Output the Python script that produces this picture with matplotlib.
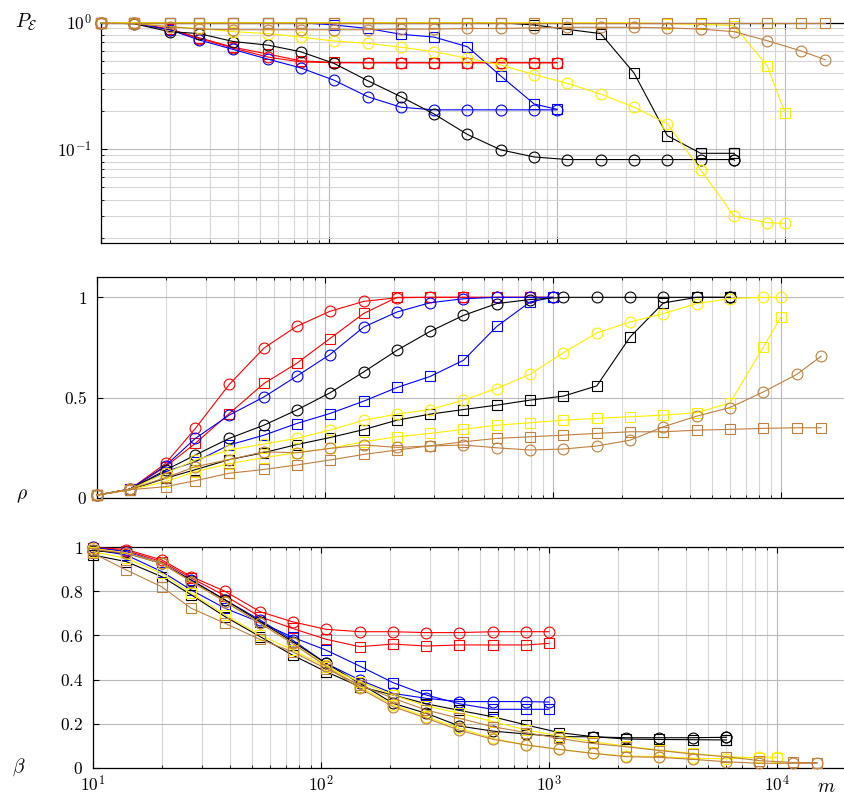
# %% Library
import matplotlib
matplotlib.use("Agg")
import matplotlib.pyplot as plt
import matplotlib.ticker as ticker
import numpy as np

plt.rcParams["mathtext.fontset"] = "cm"
plt.rcParams["font.family"] = "serif"
plt.rcParams["font.serif"] = ["DejaVu Serif"]

# %% Data
# sample sizes m (regular grid), each run stops at its own maximum m
m_grid = [10, 14, 20, 27, 38, 54, 75, 105, 148, 207, 289, 405, 567, 794,
          1111, 1556, 2178, 3049, 4269, 5976, 8367, 11714]
m_red = m_grid[:14] + [1000]
m_blue = m_grid[:14] + [1000]
m_black = m_grid[:20] + [6000]
m_yellow = m_grid[:21] + [10000]
m_brown = m_grid[:22] + [15000]

# P_E (top panel)
pe_red_c = [1, 0.99, 0.88, 0.75, 0.63, 0.535, 0.49, 0.483, 0.483, 0.483, 0.483, 0.483, 0.483, 0.483, 0.483]
pe_red_s = [1, 1, 0.89, 0.76, 0.64, 0.565, 0.50, 0.485, 0.483, 0.483, 0.483, 0.483, 0.483, 0.483, 0.483]
pe_blue_c = [1, 0.99, 0.88, 0.73, 0.615, 0.515, 0.44, 0.352, 0.26, 0.215, 0.205, 0.205, 0.205, 0.205, 0.205]
pe_blue_s = [1, 1, 1, 1, 1, 1, 1, 0.96, 0.90, 0.81, 0.77, 0.646, 0.379, 0.228, 0.207]
pe_black_c = [1, 0.98, 0.85, 0.82, 0.71, 0.665, 0.59, 0.478, 0.348, 0.26, 0.19, 0.131, 0.099, 0.087,
              0.083, 0.083, 0.083, 0.083, 0.083, 0.083, 0.082]
pe_black_s = [1, 1, 1, 1, 1, 1, 1, 1, 1, 1, 1, 1, 1, 0.96, 0.886, 0.82, 0.40, 0.128, 0.093, 0.093, 0.093]
pe_yellow_c = [1, 0.99, 0.93, 0.90, 0.85, 0.82, 0.77, 0.717, 0.687, 0.64, 0.59, 0.523, 0.463, 0.389,
               0.332, 0.273, 0.215, 0.159, 0.0687, 0.0297, 0.0263, 0.026]
pe_yellow_s = [1, 1, 1, 1, 1, 1, 1, 1, 1, 1, 1, 1, 1, 1, 1, 1, 1, 0.98, 0.97, 0.95, 0.455, 0.195]
pe_brown_c = [1, 0.98, 0.93, 0.89, 0.88, 0.88, 0.88, 0.88, 0.88, 0.89, 0.89, 0.90, 0.90, 0.91,
              0.92, 0.92, 0.92, 0.91, 0.89, 0.85, 0.72, 0.60, 0.51]
pe_brown_s = [1] * 23

# rho (middle panel)
rho_red_c = [0.013, 0.043, 0.171, 0.346, 0.565, 0.747, 0.855, 0.93, 0.98, 0.998, 1, 1, 1, 1, 1]
rho_red_s = [0.013, 0.043, 0.155, 0.271, 0.42, 0.57, 0.67, 0.794, 0.92, 1, 1, 1, 1, 1, 1]
rho_blue_c = [0.013, 0.043, 0.16, 0.296, 0.412, 0.503, 0.606, 0.714, 0.852, 0.927, 0.973, 0.993, 1, 1, 1]
rho_blue_s = [0.013, 0.043, 0.13, 0.18, 0.263, 0.312, 0.37, 0.42, 0.482, 0.55, 0.605, 0.686, 0.855, 0.977, 1.0]
rho_black_c = [0.013, 0.043, 0.138, 0.213, 0.296, 0.362, 0.437, 0.523, 0.628, 0.736, 0.83, 0.91,
               0.969, 0.989, 1, 1, 1, 1, 1, 1, 1]
rho_black_s = [0.013, 0.04, 0.097, 0.14, 0.19, 0.225, 0.265, 0.30, 0.34, 0.387, 0.417, 0.44,
               0.462, 0.487, 0.507, 0.558, 0.802, 0.972, 1, 1, 1]
rho_yellow_c = [0.013, 0.043, 0.122, 0.188, 0.238, 0.268, 0.296, 0.337, 0.387, 0.417, 0.44, 0.487,
                0.545, 0.616, 0.724, 0.822, 0.877, 0.919, 0.969, 0.994, 1, 1]
rho_yellow_s = [0.013, 0.04, 0.08, 0.13, 0.17, 0.2, 0.225, 0.246, 0.279, 0.304, 0.321, 0.341,
                0.362, 0.374, 0.387, 0.396, 0.404, 0.412, 0.424, 0.473, 0.752, 0.902]
rho_brown_c = [0.013, 0.043, 0.10, 0.155, 0.19, 0.229, 0.224, 0.246, 0.263, 0.251, 0.258, 0.263,
               0.249, 0.238, 0.243, 0.258, 0.287, 0.354, 0.407, 0.45, 0.528, 0.615, 0.706]
rho_brown_s = [0.013, 0.04, 0.055, 0.085, 0.122, 0.141, 0.163, 0.188, 0.216, 0.238, 0.259, 0.279,
               0.296, 0.304, 0.312, 0.321, 0.329, 0.329, 0.337, 0.341, 0.346, 0.349, 0.349]

# beta (bottom panel)
beta_red_c = [1.0, 0.99, 0.943, 0.867, 0.80, 0.708, 0.662, 0.628, 0.617, 0.617, 0.613, 0.613, 0.617, 0.617, 0.617]
beta_red_s = [0.995, 0.985, 0.935, 0.86, 0.78, 0.685, 0.632, 0.583, 0.549, 0.561, 0.552, 0.557, 0.557, 0.557, 0.564]
beta_blue_c = [1, 0.98, 0.927, 0.852, 0.761, 0.67, 0.579, 0.474, 0.398, 0.337, 0.315, 0.30, 0.30, 0.30, 0.298]
beta_blue_s = [0.99, 0.965, 0.89, 0.806, 0.723, 0.66, 0.592, 0.534, 0.461, 0.386, 0.33, 0.29, 0.265, 0.265, 0.265]
beta_black_c = [0.985, 0.973, 0.927, 0.849, 0.761, 0.663, 0.572, 0.474, 0.383, 0.292, 0.247, 0.189,
                0.166, 0.153, 0.141, 0.14, 0.136, 0.136, 0.136, 0.138, 0.138]
beta_black_s = [0.965, 0.935, 0.867, 0.784, 0.685, 0.595, 0.511, 0.436, 0.368, 0.33, 0.29, 0.26,
                0.231, 0.194, 0.159, 0.141, 0.13, 0.128, 0.127, 0.126, 0.126]
beta_yellow_c = [0.995, 0.975, 0.927, 0.844, 0.753, 0.655, 0.564, 0.466, 0.368, 0.284, 0.231, 0.179,
                 0.133, 0.103, 0.083, 0.065, 0.053, 0.05, 0.043, 0.04, 0.048, 0.048]
beta_yellow_s = [0.98, 0.95, 0.882, 0.791, 0.693, 0.602, 0.534, 0.458, 0.39, 0.33, 0.28, 0.247,
                 0.209, 0.171, 0.144, 0.118, 0.098, 0.08, 0.065, 0.05, 0.045, 0.045]
beta_brown_c = [0.99, 0.973, 0.927, 0.844, 0.753, 0.655, 0.564, 0.461, 0.36, 0.277, 0.225, 0.17,
                0.129, 0.103, 0.083, 0.065, 0.05, 0.047, 0.038, 0.027, 0.02, 0.02, 0.02]
beta_brown_s = [0.973, 0.897, 0.821, 0.723, 0.655, 0.582, 0.526, 0.45, 0.375, 0.315, 0.262, 0.224,
                0.186, 0.159, 0.133, 0.11, 0.095, 0.078, 0.062, 0.05, 0.032, 0.024, 0.023]

colors = {"red": "#ff0000", "blue": "#0000ff", "black": "#000000",
          "yellow": "#ffee00", "brown": "#bf8040"}
m_of = {"red": m_red, "blue": m_blue, "black": m_black, "yellow": m_yellow, "brown": m_brown}

panel_top = {"red": (pe_red_c, pe_red_s), "blue": (pe_blue_c, pe_blue_s),
             "black": (pe_black_c, pe_black_s), "yellow": (pe_yellow_c, pe_yellow_s),
             "brown": (pe_brown_c, pe_brown_s)}
panel_mid = {"red": (rho_red_c, rho_red_s), "blue": (rho_blue_c, rho_blue_s),
             "black": (rho_black_c, rho_black_s), "yellow": (rho_yellow_c, rho_yellow_s),
             "brown": (rho_brown_c, rho_brown_s)}
panel_bot = {"red": (beta_red_c, beta_red_s), "blue": (beta_blue_c, beta_blue_s),
             "black": (beta_black_c, beta_black_s), "yellow": (beta_yellow_c, beta_yellow_s),
             "brown": (beta_brown_c, beta_brown_s)}

# %% Helpers
W, H = 845, 798

def make_axes(fig, left_px, top_px, bottom_px):
    # the panels run past the right edge of the picture (cropped)
    ax = fig.add_axes([left_px / W, 1 - bottom_px / H, 1 - left_px / W, (bottom_px - top_px) / H])
    ax.set_xscale("log")
    ax.set_xlim(10, 10 ** (1 + (W - left_px) / 228.0))
    ax.spines["right"].set_visible(False)
    for s in ax.spines.values():
        s.set_linewidth(0.9)
    ax.grid(True, which="major", color="#b8b8b8", lw=0.8)
    ax.grid(True, which="minor", axis="x", color="#d6d6d6", lw=0.8)
    ax.set_axisbelow(True)
    ax.tick_params(which="both", direction="in", top=True, right=False, labelsize=12.5)
    ax.tick_params(which="major", length=4, width=0.8)
    ax.tick_params(which="minor", length=2.5, width=0.6)
    ax.tick_params(axis="y", pad=7)
    ax.tick_params(axis="x", pad=5.5)
    return ax

def draw_panel(ax, data):
    for name in ["red", "blue", "black", "yellow", "brown"]:
        yc, ys = data[name]
        for y, mk in [(yc, "o"), (ys, "s")]:
            ax.plot(m_of[name], y, color=colors[name], lw=0.8, marker=mk, ms=7.8,
                    mfc="none", mec=colors[name], mew=0.8, clip_on=False, zorder=3)

lin_fmt = ticker.FuncFormatter(lambda v, p: f"${v:g}$")
log_fmt = ticker.FuncFormatter(lambda v, p: f"$10^{{{int(round(np.log10(v)))}}}$")

# %% Figure
fig = plt.figure(figsize=(W / 100, H / 100), dpi=100)

ax1 = make_axes(fig, 101, 22.7, 243)
ax1.set_yscale("log")
ax1.set_ylim(0.0182, 1.0)
draw_panel(ax1, panel_top)
ax1.yaxis.set_major_locator(ticker.LogLocator(base=10, numticks=5))
ax1.yaxis.set_minor_locator(ticker.LogLocator(base=10, subs=np.arange(2, 10), numticks=20))
ax1.yaxis.set_major_formatter(log_fmt)
ax1.yaxis.set_minor_formatter(ticker.NullFormatter())
ax1.grid(True, which="minor", axis="y", color="#d6d6d6", lw=0.8)
ax1.xaxis.set_major_formatter(ticker.NullFormatter())
ax1.xaxis.set_minor_formatter(ticker.NullFormatter())

ax2 = make_axes(fig, 97, 277.3, 497.7)
ax2.set_ylim(0, 1.1)
draw_panel(ax2, panel_mid)
ax2.set_yticks([0, 0.5, 1])
ax2.yaxis.set_major_formatter(lin_fmt)
ax2.xaxis.set_major_formatter(ticker.NullFormatter())
ax2.xaxis.set_minor_formatter(ticker.NullFormatter())

ax3 = make_axes(fig, 93, 547.3, 767.7)
ax3.set_ylim(0, 1)
draw_panel(ax3, panel_bot)
ax3.set_yticks([0, 0.2, 0.4, 0.6, 0.8, 1])
ax3.yaxis.set_major_formatter(lin_fmt)
ax3.set_xticks([10, 100, 1000, 10000])
ax3.xaxis.set_major_formatter(log_fmt)
ax3.xaxis.set_minor_formatter(ticker.NullFormatter())

# axis names
fig.text(26 / W, 1 - 22 / H, r"$P_{\mathcal{E}}$", fontsize=14, ha="center", va="center")
fig.text(22 / W, 1 - 496 / H, r"$\rho$", fontsize=14, ha="center", va="center")
fig.text(19 / W, 1 - 767 / H, r"$\beta$", fontsize=14, ha="center", va="center")
fig.text(826 / W, 1 - 787 / H, r"$m$", fontsize=14, ha="center", va="center")

fig.savefig("out.png", dpi=100)
